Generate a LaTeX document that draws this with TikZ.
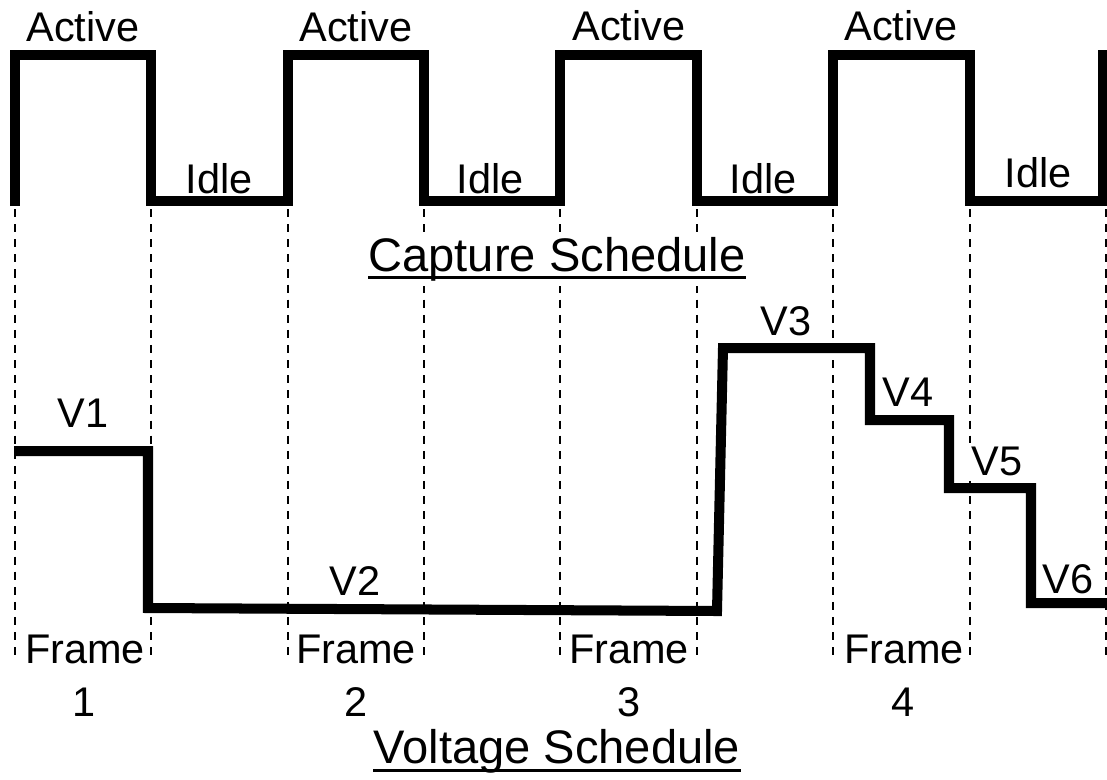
\documentclass[tikz,border=0pt]{standalone}
\usepackage{fontspec}
\setmainfont{Liberation Sans}
\usepackage{tikz}

\tikzset{
  wave/.style={line width=5.7pt},
  guide/.style={line width=1.6pt, dash pattern=on 4.6pt off 4.0pt},
  lbl/.style={font=\fontsize{23.6}{28}\selectfont, fill=white, inner sep=2pt, anchor=base},
  ttl/.style={font=\fontsize{26.8}{32}\selectfont, fill=white, inner sep=3pt, anchor=base},
  uline/.style={line width=1.7pt}
}

\begin{document}
\begin{tikzpicture}[x=0.02cm,y=-0.02cm]
\useasboundingbox (0,0) rectangle (1107,779);

%   dashed guides
\draw [guide] (15,209)--(15,662);
\draw [guide] (151,209)--(151,662);
\draw [guide] (288,209)--(288,662);
\draw [guide] (424,209)--(424,662);
\draw [guide] (560,209)--(560,662);
\draw [guide] (697,209)--(697,662);
\draw [guide] (833,209)--(833,662);
\draw [guide] (970,209)--(970,662);
\draw [guide] (1106,209)--(1106,662);

%   capture schedule
\node[lbl] (act1) at (83,41) {Active};
\node[lbl] (act2) at (356,41) {Active};
\node[lbl] (act3) at (629,40) {Active};
\node[lbl] (act4) at (901,40) {Active};
\node[lbl] (idle1) at (219,193) {Idle};
\node[lbl] (idle2) at (490,193) {Idle};
\node[lbl] (idle3) at (763,193) {Idle};
\node[lbl] (idle4) at (1038,187) {Idle};
\node[ttl] (cap) at (557,271) {Capture Schedule};

%   voltage schedule
\node[lbl] (v1) at (83,427) {V1};
\node[lbl] (v2) at (355,595) {V2};
\node[lbl] (v3) at (786,335) {V3};
\node[lbl] (v4) at (908,406) {V4};
\node[lbl] (v5) at (997,475) {V5};
\node[lbl] (v6) at (1068,593) {V6};
\node[lbl] (frm1) at (85,663) {Frame};
\node[lbl] (frm2) at (356,663) {Frame};
\node[lbl] (frm3) at (629,663) {Frame};
\node[lbl] (frm4) at (904,663) {Frame};
\node[lbl] (num1) at (84,716) {1};
\node[lbl] (num2) at (356,716) {2};
\node[lbl] (num3) at (629,716) {3};
\node[lbl] (num4) at (903,716) {4};
\node[ttl] (volt) at (557,763) {Voltage Schedule};

%   underlines
\draw [uline] ([xshift=3pt,yshift=-3.7pt]cap.base west)--([xshift=-3pt,yshift=-3.7pt]cap.base east);
\draw [uline] ([xshift=3pt,yshift=-4.3pt]volt.base west)--([xshift=-3pt,yshift=-4.3pt]volt.base east);

%   waveforms
\draw [wave] (15,206)--(15,55)--(151,55)--(151,201)--(288,201)--(288,55)--(424,55)--(424,201)
  --(560,201)--(560,55)--(697,55)--(697,201)--(833,201)--(833,55)--(970,55)--(970,201)
  --(1103,201)--(1103,50);
\draw [wave] (14,451)--(148,451)--(148,608)--(717,611)--(723,348)--(870,348)--(870,420)
  --(949,420)--(949,488)--(1031,488)--(1031,603)--(1107,603);

% \draw[gray!50,step=50](0,0) grid (1107,779);
\end{tikzpicture}
\end{document}
